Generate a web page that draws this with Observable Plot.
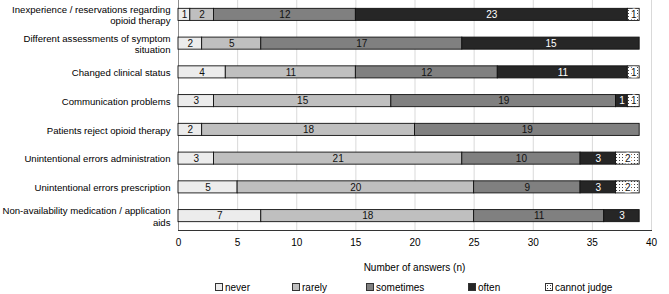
<!DOCTYPE html>
<html><head><meta charset="utf-8">
<script src="https://cdn.jsdelivr.net/npm/d3@7"></script>
<script src="https://cdn.jsdelivr.net/npm/@observablehq/plot@0.6"></script>
<style>
body{margin:0;background:#fff;font-family:"Liberation Sans",Arial,sans-serif;}
#wrap{position:relative;width:669px;height:294px;}
#xtitle{position:absolute;top:262px;left:178px;width:473px;text-align:center;font-size:10px;color:#000;}
#legend{position:absolute;top:282px;left:0;width:669px;height:12px;font-size:10px;color:#000;}
.item{position:absolute;top:0;white-space:nowrap;line-height:12px;}
.sw{display:inline-block;width:6px;height:6px;border:1px solid #333;margin-right:2px;}
</style>
</head><body>
<div id="wrap"><div id="chart"></div><div id="xtitle">Number of answers (n)</div><div id="legend"></div></div>
<script>
const categories = [
  "Inexperience / reservations regarding opioid therapy",
  "Different assessments of symptom situation",
  "Changed clinical status",
  "Communication problems",
  "Patients reject opioid therapy",
  "Unintentional errors administration",
  "Unintentional errors prescription",
  "Non-availability medication / application aids"
];
const categoryLabels = [
  "Inexperience / reservations regarding\nopioid therapy",
  "Different assessments of symptom\nsituation",
  "Changed clinical status",
  "Communication problems",
  "Patients reject opioid therapy",
  "Unintentional errors administration",
  "Unintentional errors prescription",
  "Non-availability medication / application\naids"
];
const series = ["never", "rarely", "sometimes", "often", "cannot judge"];
const never = [1, 2, 4, 3, 2, 3, 5, 7];
const rarely = [2, 5, 11, 15, 18, 21, 20, 18];
const sometimes = [12, 17, 12, 19, 19, 10, 9, 11];
const often = [23, 15, 11, 1, 0, 3, 3, 3];
const cannotJudge = [1, 0, 1, 1, 0, 2, 2, 0];
const xTicks = [0, 5, 10, 15, 20, 25, 30, 35, 40];
const colors = ["#ececec", "#bfbfbf", "#808080", "#262626", "url(#dots)"];

const values = [never, rarely, sometimes, often, cannotJudge];
const data = categories.flatMap((c, i) => series.map((s, j) => ({cat: c, series: s, value: values[j][i]})))
  .filter(d => d.value > 0);

const stackOpts = (extra) => Plot.stackX({x: "value", y: "cat", z: "series", order: series, ...extra});
const labelFor = (pred) => d => pred(d.series) ? String(d.value) : "";

const chart = Plot.plot({
  width: 669, height: 258,
  marginLeft: 178, marginRight: 18, marginTop: 0, marginBottom: 28,
  style: {fontFamily: "Liberation Sans, Arial, sans-serif", fontSize: "10px", color: "#000", background: "white"},
  x: {domain: [0, 40], label: null},
  y: {domain: categories, paddingInner: 0.58, paddingOuter: 0.29, round: false, label: null},
  color: {domain: series, range: colors},
  marks: [
    Plot.gridX(xTicks.slice(1), {stroke: "#d9d9d9", strokeOpacity: 1}),
    Plot.ruleX([0], {stroke: "#8c8c8c"}),
    Plot.barX(data, stackOpts({fill: "series", stroke: "#111", strokeWidth: 0.9})),
    Plot.text(data, stackOpts({text: labelFor(s => s !== "often" && s !== "cannot judge"), fill: "#111"})),
    Plot.text(data, stackOpts({text: labelFor(s => s === "often"), fill: "white"})),
    Plot.text(data, stackOpts({text: labelFor(s => s === "cannot judge"), fill: "#111", stroke: "white", strokeWidth: 3, paintOrder: "stroke"})),
    Plot.axisX(xTicks, {tickSize: 0, tickPadding: 8, label: null}),
    Plot.axisY({tickSize: 0, tickPadding: 8, label: null, lineHeight: 1.2, fontSize: 9.6,
      tickFormat: c => categoryLabels[categories.indexOf(c)]}),
    Plot.frame({anchor: "bottom", stroke: "#333"})
  ]
});

const ns = "http://www.w3.org/2000/svg";
const defs = document.createElementNS(ns, "defs");
defs.innerHTML = '<pattern id="dots" width="3" height="3" patternUnits="userSpaceOnUse"><rect width="3" height="3" fill="white"/><rect x="1" y="1" width="1" height="1" fill="#444"/></pattern>';
chart.insertBefore(defs, chart.firstChild);
document.getElementById("chart").appendChild(chart);

const legendX = [215, 292, 366, 468, 545];
const legend = document.getElementById("legend");
series.forEach((s, i) => {
  const it = document.createElement("div");
  it.className = "item";
  it.style.left = legendX[i] + "px";
  const bg = i === 4 ? "background:#fff;background-image:radial-gradient(#444 0.6px, transparent 0.7px);background-size:3px 3px;" : "background:" + colors[i] + ";";
  it.innerHTML = '<span class="sw" style="' + bg + '"></span>' + s;
  legend.appendChild(it);
});
</script>
</body></html>
